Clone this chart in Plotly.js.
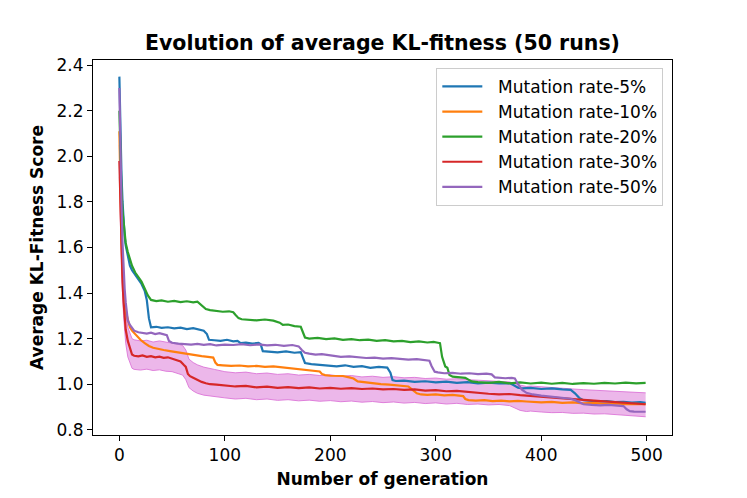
<!DOCTYPE html>
<html>
<head>
<meta charset="utf-8">
<script src="https://cdn.plot.ly/plotly-3.0.1.min.js"></script>
<style>html,body{margin:0;padding:0;background:#fff;}#chart{width:747px;height:498px;}</style>
</head>
<body>
<div id="chart"></div>
<script>
// ---- data ----
const seriesNames = ["Mutation rate-5%", "Mutation rate-10%", "Mutation rate-20%", "Mutation rate-30%", "Mutation rate-50%"];

const genBlue = [0,1,2,3,4,5,6,8,10,12,15,18,21,24,26,28,30,35,40,46,52,58,64,70,76,80,83,85,90,96,102,108,112,115,120,126,132,134,136,142,150,158,166,172,174,176,182,190,198,206,214,222,230,238,246,254,257,259,262,270,280,290,300,310,320,330,340,350,360,370,374,378,382,390,400,410,420,428,432,436,440,446,454,462,470,478,486,494,499];
const valBlue = [2.35,2.10,1.92,1.80,1.71,1.65,1.61,1.56,1.52,1.50,1.48,1.46,1.44,1.41,1.37,1.29,1.25,1.252,1.247,1.25,1.245,1.248,1.242,1.246,1.24,1.235,1.22,1.195,1.193,1.19,1.195,1.188,1.19,1.18,1.182,1.178,1.181,1.175,1.145,1.143,1.14,1.144,1.138,1.141,1.12,1.093,1.088,1.085,1.08,1.078,1.083,1.076,1.079,1.072,1.076,1.073,1.05,1.018,1.014,1.016,1.01,1.013,1.008,1.011,1.006,1.009,1.004,1.007,1.003,1.005,0.995,0.985,0.982,0.984,0.979,0.982,0.977,0.975,0.96,0.94,0.93,0.927,0.924,0.926,0.921,0.923,0.919,0.921,0.918];

const genOrange = [0,1,2,3,4,5,6,8,10,12,14,17,20,24,28,32,36,42,48,54,60,66,72,78,84,89,91,93,98,106,114,122,130,138,146,154,162,166,172,178,184,190,192,195,200,206,212,218,222,226,232,240,248,256,262,268,274,278,282,286,292,300,308,316,322,326,328,331,338,346,354,362,370,378,386,392,400,410,420,430,440,450,460,470,480,490,499];
const valOrange = [2.11,1.80,1.62,1.50,1.42,1.36,1.32,1.28,1.25,1.235,1.225,1.21,1.195,1.18,1.168,1.16,1.155,1.15,1.145,1.14,1.136,1.132,1.128,1.123,1.12,1.117,1.095,1.085,1.083,1.08,1.082,1.078,1.08,1.076,1.078,1.074,1.072,1.068,1.065,1.062,1.06,1.056,1.045,1.04,1.037,1.035,1.036,1.03,1.025,1.012,1.008,1.005,1.0,0.998,0.995,0.993,0.99,0.975,0.96,0.955,0.953,0.955,0.951,0.953,0.95,0.948,0.935,0.93,0.928,0.93,0.926,0.928,0.925,0.927,0.924,0.922,0.92,0.922,0.918,0.92,0.916,0.918,0.914,0.916,0.912,0.914,0.912];

const genGreen = [0,1,2,3,4,5,6,8,10,12,15,18,21,24,27,30,35,40,46,52,58,64,70,74,77,79,82,86,92,98,104,108,110,113,116,122,130,138,146,152,155,160,166,172,174,176,180,188,196,204,212,220,228,236,244,252,260,268,276,284,292,298,302,304,306,309,311,313,316,322,328,331,334,340,350,360,370,380,390,400,410,420,430,440,450,460,470,480,490,499];
const valGreen = [2.20,1.98,1.85,1.76,1.70,1.66,1.62,1.58,1.55,1.52,1.49,1.47,1.45,1.42,1.39,1.37,1.365,1.368,1.362,1.366,1.36,1.364,1.359,1.362,1.35,1.34,1.33,1.325,1.322,1.318,1.32,1.316,1.305,1.29,1.285,1.283,1.28,1.284,1.279,1.27,1.26,1.262,1.255,1.252,1.23,1.205,1.20,1.203,1.198,1.201,1.195,1.198,1.193,1.196,1.19,1.193,1.188,1.19,1.185,1.188,1.183,1.186,1.182,1.18,1.12,1.078,1.072,1.04,1.033,1.03,1.028,1.02,1.012,1.009,1.006,1.01,1.004,1.008,1.003,1.007,1.002,1.006,1.001,1.005,1.002,1.006,1.003,1.007,1.004,1.006];

const genRed = [0,1,2,3,4,5,6,8,10,11,12,14,18,22,26,30,34,38,42,46,50,54,58,61,63,65,67,70,74,78,82,86,92,100,110,120,130,140,150,160,170,180,190,200,210,220,230,240,250,260,270,280,290,300,310,320,330,340,350,360,370,380,390,400,410,420,430,440,450,460,470,480,490,499];
const valRed = [1.98,1.75,1.58,1.45,1.36,1.29,1.24,1.19,1.16,1.145,1.13,1.125,1.122,1.126,1.12,1.123,1.118,1.121,1.116,1.118,1.112,1.108,1.10,1.085,1.076,1.045,1.035,1.028,1.018,1.01,1.004,1.0,0.998,0.995,0.99,0.993,0.986,0.989,0.984,0.987,0.983,0.986,0.981,0.984,0.98,0.983,0.979,0.981,0.977,0.979,0.975,0.977,0.972,0.974,0.969,0.971,0.966,0.962,0.958,0.955,0.957,0.952,0.948,0.944,0.94,0.937,0.934,0.931,0.928,0.925,0.922,0.919,0.916,0.912];

const genPurple = [0,1,2,3,4,5,6,7,8,10,12,14,18,22,26,30,34,38,42,45,47,50,56,62,68,74,80,86,92,100,108,116,124,132,140,148,156,164,170,173,176,180,186,192,198,204,210,218,226,234,242,250,258,266,274,282,290,294,296,299,302,308,316,324,332,340,348,353,356,360,366,372,375,378,382,386,392,400,408,416,424,428,432,436,440,448,456,464,472,478,481,484,488,494,499];
const valPurple = [2.30,2.0,1.80,1.62,1.50,1.42,1.36,1.31,1.28,1.26,1.245,1.235,1.228,1.225,1.222,1.226,1.22,1.224,1.218,1.215,1.19,1.182,1.178,1.176,1.174,1.177,1.173,1.176,1.17,1.174,1.172,1.176,1.171,1.175,1.17,1.173,1.168,1.172,1.166,1.15,1.138,1.134,1.13,1.132,1.128,1.125,1.12,1.122,1.118,1.115,1.117,1.112,1.114,1.11,1.108,1.11,1.106,1.103,1.08,1.055,1.052,1.048,1.05,1.046,1.048,1.044,1.046,1.043,1.03,1.028,1.026,1.028,1.025,1.0,0.975,0.962,0.955,0.95,0.946,0.944,0.94,0.936,0.93,0.92,0.912,0.909,0.907,0.909,0.906,0.904,0.89,0.882,0.88,0.881,0.879];

const genBand = [0,2,4,6,8,10,12,14,20,26,32,38,44,50,56,60,63,66,70,74,80,90,100,110,120,130,140,150,160,170,180,190,200,210,220,230,240,250,260,270,280,290,300,310,320,330,340,350,360,370,376,380,386,390,400,410,420,430,440,450,460,470,480,490,499];
const bandUpper = [2.05,1.65,1.43,1.31,1.25,1.22,1.20,1.195,1.19,1.193,1.185,1.19,1.186,1.182,1.175,1.17,1.15,1.11,1.095,1.085,1.075,1.065,1.055,1.05,1.053,1.046,1.049,1.043,1.046,1.04,1.043,1.038,1.041,1.035,1.038,1.032,1.035,1.03,1.033,1.028,1.03,1.025,1.027,1.022,1.024,1.02,1.018,1.015,1.012,1.01,1.0,0.995,0.99,0.992,0.988,0.985,0.982,0.979,0.976,0.974,0.971,0.968,0.966,0.963,0.962];
const bandLower = [1.91,1.50,1.30,1.18,1.12,1.09,1.07,1.065,1.062,1.066,1.06,1.063,1.057,1.055,1.048,1.04,1.02,0.985,0.97,0.96,0.952,0.945,0.94,0.935,0.938,0.932,0.935,0.929,0.932,0.927,0.93,0.925,0.928,0.923,0.926,0.921,0.924,0.919,0.922,0.917,0.92,0.915,0.918,0.913,0.916,0.911,0.913,0.909,0.911,0.906,0.895,0.885,0.88,0.882,0.878,0.875,0.876,0.872,0.873,0.869,0.87,0.866,0.864,0.86,0.857];

const xTicks = [0,100,200,300,400,500];
const yTicks = [0.8,1.0,1.2,1.4,1.6,1.8,2.0,2.2,2.4];

// ---- build traces ----
const colors = ["#1f77b4","#ff7f0e","#2ca02c","#d62728","#9467bd"];
const gens = [genBlue, genOrange, genGreen, genRed, genPurple];
const vals = [valBlue, valOrange, valGreen, valRed, valPurple];

const traces = [];
traces.push({x: genBand, y: bandLower, mode: "lines", line: {color: "rgba(218,112,214,0.85)", width: 1}, showlegend: false, hoverinfo: "skip"});
traces.push({x: genBand, y: bandUpper, mode: "lines", fill: "tonexty", fillcolor: "rgba(218,112,214,0.5)", line: {color: "rgba(218,112,214,0.85)", width: 1}, showlegend: false, hoverinfo: "skip"});
for (let i = 0; i < 5; i++) {
  traces.push({x: gens[i], y: vals[i], mode: "lines", name: "\u00a0\u00a0" + seriesNames[i], legendgroup: "g" + i,
    line: {color: colors[i], width: 2.2}});
}

const axisCommon = {
  showgrid: false, zeroline: false, showline: true, mirror: true, linecolor: "#000", linewidth: 1,
  ticks: "outside", ticklen: 5, tickwidth: 1, tickcolor: "#000",
  tickfont: {family: "DejaVu Sans", size: 17, color: "#000"}
};

const layout = {
  width: 747, height: 498,
  margin: {l: 93, r: 75, t: 60, b: 63},
  paper_bgcolor: "#fff", plot_bgcolor: "#fff",
  font: {family: "DejaVu Sans", color: "#000"},
  title: {text: "<b>Evolution of average KL-fitness (50 runs)</b>", font: {family: "DejaVu Sans", size: 20.5, color: "#000"},
    x: 0.5, xref: "paper", xanchor: "center", y: 1 - 43/498, yref: "container", yanchor: "middle"},
  xaxis: Object.assign({}, axisCommon, {range: [-25, 524], tickvals: xTicks, ticktext: xTicks.map(String),
    title: {text: "<b>Number of generation</b>", font: {family: "DejaVu Sans", size: 17, color: "#000"}, standoff: 8}}),
  yaxis: Object.assign({}, axisCommon, {range: [0.777, 2.423], tickvals: yTicks, ticktext: yTicks.map(v => v.toFixed(1)),
    title: {text: "<b>Average KL-Fitness Score</b>", font: {family: "DejaVu Sans", size: 17, color: "#000"}, standoff: 8}}),
  legend: {x: 0.985, xanchor: "right", y: 0.979, yanchor: "top", bgcolor: "rgba(255,255,255,0.8)",
    bordercolor: "#cccccc", borderwidth: 1, font: {family: "DejaVu Sans", size: 17, color: "#000"},
    traceorder: "grouped", tracegroupgap: 0, itemwidth: 40},
  showlegend: true
};

Plotly.newPlot("chart", traces, layout, {displayModeBar: false, staticPlot: true});
</script>
</body>
</html>
